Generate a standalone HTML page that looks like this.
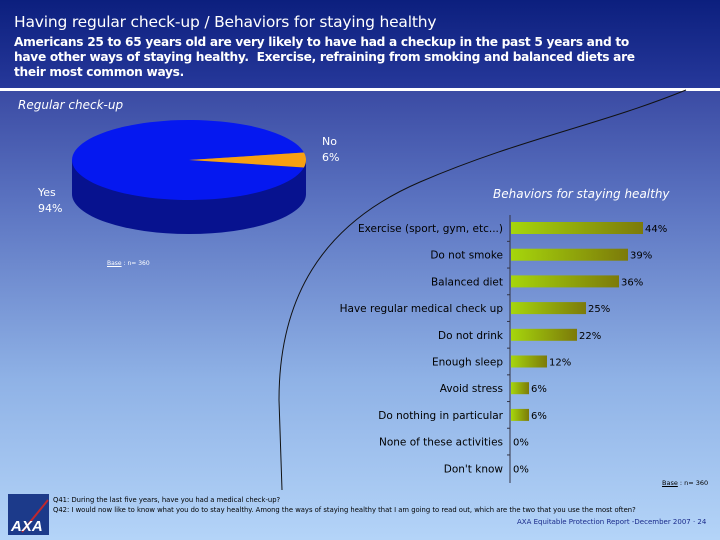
<!DOCTYPE html>
<html><head><meta charset="utf-8"><style>
body{margin:0;width:720px;height:540px;overflow:hidden;font-family:"DejaVu Sans","Liberation Sans",sans-serif}
#page{position:relative;width:720px;height:540px;background:linear-gradient(#3a4aa3 88px,#5a72c0 200px,#8fb2e6 380px,#b4d4f8 540px)}
#hdr{position:absolute;left:0;top:0;width:720px;height:88px;background:linear-gradient(#0c1f7e,#26389a)}
#hdr .t{position:absolute;left:14px;top:13px;color:#fff;font-size:15.5px;letter-spacing:-0.2px}
#hdr .s{position:absolute;left:14px;top:35px;color:#fff;font-size:12.2px;font-weight:bold;line-height:15px;letter-spacing:-0.3px}
#line{position:absolute;left:0;top:88px;width:720px;height:3px;background:#fff}
.txt{position:absolute;white-space:nowrap}
</style></head><body>
<div id="page">
<div id="hdr">
<div class="t">Having regular check-up / Behaviors for staying healthy</div>
<div class="s">Americans 25 to 65 years old are very likely to have had a checkup in the past 5 years and to<br>have other ways of staying healthy.&nbsp; Exercise, refraining from smoking and balanced diets are<br>their most common ways.</div>
</div>
<div id="line"></div>
<svg width="720" height="540" style="position:absolute;left:0;top:0">
<path d="M282 490 L279 400 C279 300 320 225 420 182 S600 125 686 90" fill="none" stroke="#111" stroke-width="1"/>
<g id="pie"></g>
<g id="bars"></g>
</svg>
<div class="txt" style="left:18px;top:98px;color:#fff;font-style:italic;font-size:12px">Regular check-up</div>
<div class="txt" style="left:322px;top:134px;color:#fff;font-size:11px;line-height:16px">No<br>6%</div>
<div class="txt" style="left:38px;top:185px;color:#fff;font-size:11px;line-height:16px">Yes<br>94%</div>
<div class="txt" style="left:107px;top:260px;color:#fff;font-size:6px"><u>Base</u> : n= 360</div>
<div class="txt" style="left:493px;top:187px;color:#fff;font-style:italic;font-size:12px">Behaviors for staying healthy</div>
<div class="txt" style="left:662px;top:479px;color:#000;font-size:6.5px"><u>Base</u> : n= 360</div>
<div style="position:absolute;left:8px;top:494px;width:41px;height:41px;background:#1c3a8a">
<svg width="41" height="41"><line x1="14" y1="38" x2="40" y2="6" stroke="#c0282e" stroke-width="2"/><text x="3" y="37" fill="#fff" font-size="15" font-weight="bold" font-style="italic" font-family="Liberation Sans,sans-serif">AXA</text></svg></div>
<div class="txt" style="left:53px;top:495px;color:#000;font-size:6.8px;line-height:10px">Q41: During the last five years, have you had a medical check-up?<br>Q42: I would now like to know what you do to stay healthy. Among the ways of staying healthy that I am going to read out, which are the two that you use the most often?</div>
<div class="txt" style="left:517px;top:518px;color:#1a2a8a;font-size:7px">AXA Equitable Protection Report -December 2007 · 24</div>
</div>
<script>
const pieLabels=["Yes","No"];
const pieValues=[94,6];
const barLabels=["Exercise (sport, gym, etc...)","Do not smoke","Balanced diet","Have regular medical check up","Do not drink","Enough sleep","Avoid stress","Do nothing in particular","None of these activities","Don't know"];
const barValues=[44,39,36,25,22,12,6,6,0,0];
const NS="http://www.w3.org/2000/svg";
function mk(t,a,p){const e=document.createElementNS(NS,t);for(const k in a)e.setAttribute(k,a[k]);p.appendChild(e);return e;}
// pie
const pg=document.getElementById('pie');
const cx=189,cy=160,rx=117,ry=40,dep=34;
const defs=mk('defs',{},pg);
mk('path',{d:`M${cx-rx} ${cy} L${cx-rx} ${cy+dep} A${rx} ${ry} 0 0 0 ${cx+rx} ${cy+dep} L${cx+rx} ${cy} Z`,fill:'#07128f'},pg);
const total=pieValues.reduce((a,b)=>a+b,0);
const noAng=pieValues[1]/total*2*Math.PI;
const a0=-noAng/2,a1=noAng/2;
const pt=a=>[cx+rx*Math.cos(a),cy+ry*Math.sin(a)];
let s=pt(a1),e=pt(a0);
const yes=mk('path',{d:`M${cx} ${cy} L${s[0]} ${s[1]} A${rx} ${ry} 0 1 1 ${e[0]} ${e[1]} Z`,fill:'#0518f0'},pg);


const no=mk('path',{d:`M${cx} ${cy} L${e[0]} ${e[1]} A${rx} ${ry} 0 0 1 ${s[0]} ${s[1]} Z`,fill:'#f7a012'},pg);


// bars
const bg=document.getElementById('bars');
const gr=mk('linearGradient',{id:'bg',x1:0,x2:1,y1:0,y2:0},defs);
mk('stop',{offset:0,'stop-color':'#a6d60c'},gr);mk('stop',{offset:1,'stop-color':'#7c7a0a'},gr);
const x0=510,ppu=3,y0=228,step=26.7,bh=12;
const xs=v=>x0+v*ppu, ys=i=>y0+i*step;
mk('line',{x1:x0,y1:215,x2:x0,y2:483,stroke:'#334',"stroke-width":1},bg);
barLabels.forEach((l,i)=>{
 const y=ys(i);
 if(i>0)mk('line',{x1:x0-3,y1:y-step/2,x2:x0,y2:y-step/2,stroke:'#334'},bg);
 if(barValues[i]>0){const r=mk('rect',{x:x0+1,y:y-bh/2,width:xs(barValues[i])-x0,height:bh,fill:'url(#bg)'},bg);
 
 }
 const t=mk('text',{x:x0-7,y:y+4,'text-anchor':'end','font-size':10.5,fill:'#000'},bg);t.textContent=l;
 
 
 const v=mk('text',{x:xs(barValues[i])+3,y:y+4,'font-size':10,fill:'#000'},bg);v.textContent=barValues[i]+'%';
 
 
});
</script>
</body></html>
